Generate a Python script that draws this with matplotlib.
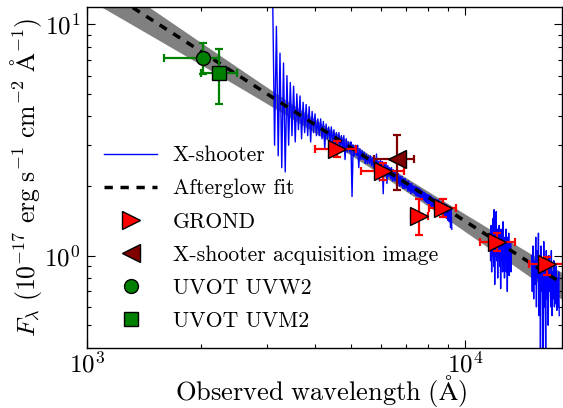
import numpy as np
import matplotlib
matplotlib.use("Agg")
import matplotlib.pyplot as plt
from matplotlib.ticker import NullFormatter

plt.rcParams['font.family'] = 'cmr10'
plt.rcParams['mathtext.fontset'] = 'cm'
plt.rcParams['axes.unicode_minus'] = False
plt.rcParams['axes.formatter.use_mathtext'] = True

# ---------------- data ----------------
# Afterglow power-law fit: F = fit_norm * (wl / fit_pivot)**fit_slope
fit_norm = 2.92
fit_pivot = 5000.0
fit_slope = -1.05
# band (dex) half-widths: sqrt(a^2 + b^2 (log wl - p)^2), upper/lower scale
band_a = 0.027
band_b = 0.095
band_p = 3.72
band_up = 0.8
band_lo = 1.2

# X-shooter spectrum, three segments (flux values)
spec_a_range = (3100, 9225)
spec_a_flux = [12.5, 3.0, 9.8, 2.7, 7.5, 2.4, 6.8, 2.3, 6.0, 3.0,
               5.6, 3.3, 5.4, 3.1, 5.0, 3.5, 4.9, 3.2, 4.6, 3.4,
               4.5, 3.3, 4.4, 3.1, 4.2, 3.4, 4.1, 3.3, 3.9, 3.3,
               3.9, 3.2, 3.8, 2.9, 3.7, 3.2, 3.6, 3.1, 3.6, 3.0,
               3.5, 3.0, 3.4, 3.0, 3.4, 2.9, 3.3, 2.9, 3.3, 2.6,
               3.2, 2.8, 3.1, 2.8, 3.1, 1.8, 3.0, 2.7, 3.0, 2.7,
               3.0, 2.4, 2.9, 2.6, 2.85, 2.6, 2.8, 2.5, 2.75, 2.5,
               2.7, 2.5, 2.7, 2.45, 2.65, 2.4, 2.6, 2.2, 2.75, 2.3,
               2.55, 2.1, 2.6, 2.3, 2.55, 1.85, 2.5, 2.25, 2.5, 2.05,
               2.45, 2.2, 2.4, 2.15, 2.4, 2.1, 2.35, 2.1, 2.3, 2.1,
               2.3, 2.05, 2.25, 2.0, 2.2, 2.0, 2.2, 1.95, 2.15, 1.95,
               2.15, 1.95, 2.1, 1.9, 2.1, 1.9, 2.05, 1.85, 2.05, 1.88,
               2.0, 1.85, 2.0, 1.82, 1.98, 1.8, 1.97, 1.8, 1.95, 1.75,
               1.92, 1.76, 1.9, 1.74, 1.88, 1.72, 1.86, 1.7, 1.84, 1.68,
               1.83, 1.68, 1.82, 1.65, 1.8, 1.62, 1.78, 1.63, 1.76, 1.6,
               1.75, 1.6, 1.74, 1.57, 1.74, 1.55, 1.72, 1.55, 1.7, 1.52,
               1.7, 1.5, 1.68, 1.48, 1.67, 1.47, 1.66, 1.45, 1.64, 1.42,
               1.62, 1.4, 1.6, 1.32, 1.58, 1.3]
spec_b_range = (11650, 13270)
spec_b_flux = [1.25, 0.95, 1.35, 0.85, 1.3, 1.0, 1.45, 0.9, 1.58, 0.75,
               1.4, 1.0, 1.55, 0.95, 1.3, 0.8, 1.25, 1.0, 1.35, 0.9,
               1.2, 0.72, 1.3, 0.95, 1.25, 0.85, 1.4, 0.9, 1.15, 0.8,
               1.2, 0.95, 1.3, 0.85, 1.15, 0.7, 1.2, 0.9, 1.25, 0.82,
               1.1, 0.88, 1.15, 0.85, 1.05]
spec_c_range = (15000, 17750)
spec_c_flux = [1.0, 0.7, 1.1, 0.65, 0.95, 0.75, 1.2, 0.6, 1.05, 0.8,
               1.25, 0.55, 1.0, 0.35, 1.1, 0.7, 0.95, 0.3, 1.15, 0.6,
               0.9, 0.38, 1.05, 0.65, 0.95, 0.5, 1.0, 0.7, 0.9, 0.6,
               1.05, 0.55, 0.85, 0.65, 0.95, 0.6, 0.85, 0.62, 0.9, 0.58,
               0.8, 0.6, 0.85, 0.55]

# GROND photometry
grond_wl = [4590, 6085, 7570, 8730, 12130, 16440]
grond_wl_lo = [4010, 5310, 7190, 8050, 10960, 14760]
grond_wl_hi = [5160, 6900, 7960, 9460, 13550, 18400]
grond_f = [2.89, 2.32, 1.49, 1.60, 1.15, 0.918]
grond_f_lo = [2.66, 2.12, 1.23, 1.47, 1.05, 0.826]
grond_f_hi = [3.14, 2.52, 1.75, 1.75, 1.25, 0.99]

# X-shooter acquisition image
acq_wl, acq_wl_lo, acq_wl_hi = 6590, 5740, 7345
acq_f, acq_f_lo, acq_f_hi = 2.61, 1.92, 3.33

# UVOT
uvw2_wl, uvw2_wl_lo, uvw2_wl_hi = 2028, 1601, 2240
uvw2_f, uvw2_f_lo, uvw2_f_hi = 7.17, 6.10, 8.32
uvm2_wl, uvm2_wl_lo, uvm2_wl_hi = 2233, 2005, 2493
uvm2_f, uvm2_f_lo, uvm2_f_hi = 6.16, 4.54, 7.82

# ---------------- plot ----------------
fig = plt.figure(figsize=(5.63, 4.08), dpi=100)
ax = fig.add_axes([0.1545, 0.148, 0.8437, 0.8353])
ax.set_xscale('log')
ax.set_yscale('log')

wl_fit = np.logspace(np.log10(900), np.log10(20000), 300)
f_fit = fit_norm * (wl_fit / fit_pivot) ** fit_slope
h = np.sqrt(band_a**2 + band_b**2 * (np.log10(wl_fit) - band_p) ** 2)
ax.fill_between(wl_fit, f_fit / 10**(band_lo * h), f_fit * 10**(band_up * h),
                color='#808080', lw=0, zorder=1)

for rng, fl in [(spec_a_range, spec_a_flux), (spec_b_range, spec_b_flux),
                (spec_c_range, spec_c_flux)]:
    wl = np.linspace(rng[0], rng[1], len(fl))
    ax.plot(wl, fl, color='blue', lw=1.0, zorder=2,
            label='X-shooter' if rng == spec_a_range else None)

ax.plot(wl_fit, f_fit, color='black', ls=(0, (2.4, 2.2)), lw=2.5, zorder=3,
        label='Afterglow fit')

def xerr(c, lo, hi):
    c = np.atleast_1d(c); lo = np.atleast_1d(lo); hi = np.atleast_1d(hi)
    return np.vstack([c - lo, hi - c])

ax.errorbar(grond_wl, grond_f, xerr=xerr(grond_wl, grond_wl_lo, grond_wl_hi),
            yerr=xerr(grond_f, grond_f_lo, grond_f_hi), fmt='none',
            ecolor='red', elinewidth=1.6, capsize=3, capthick=1.6, zorder=4)
ax.plot(grond_wl, grond_f, ls='none', marker='>', ms=13, mfc='red',
        mec='black', mew=1.0, zorder=5, label='GROND')

ax.errorbar([acq_wl], [acq_f], xerr=xerr(acq_wl, acq_wl_lo, acq_wl_hi),
            yerr=xerr(acq_f, acq_f_lo, acq_f_hi), fmt='none',
            ecolor='#800000', elinewidth=1.6, capsize=3, capthick=1.6, zorder=4)
ax.plot([acq_wl], [acq_f], ls='none', marker='<', ms=13, mfc='#800000',
        mec='black', mew=1.0, zorder=5, label='X-shooter acquisition image')

ax.errorbar([uvw2_wl], [uvw2_f], xerr=xerr(uvw2_wl, uvw2_wl_lo, uvw2_wl_hi),
            yerr=xerr(uvw2_f, uvw2_f_lo, uvw2_f_hi), fmt='none',
            ecolor='green', elinewidth=1.6, capsize=3, capthick=1.6, zorder=4)
ax.plot([uvw2_wl], [uvw2_f], ls='none', marker='o', ms=10, mfc='green',
        mec='black', mew=1.0, zorder=5, label='UVOT UVW2')

ax.errorbar([uvm2_wl], [uvm2_f], xerr=xerr(uvm2_wl, uvm2_wl_lo, uvm2_wl_hi),
            yerr=xerr(uvm2_f, uvm2_f_lo, uvm2_f_hi), fmt='none',
            ecolor='green', elinewidth=1.6, capsize=3, capthick=1.6, zorder=4)
ax.plot([uvm2_wl], [uvm2_f], ls='none', marker='s', ms=10, mfc='green',
        mec='black', mew=1.0, zorder=5, label='UVOT UVM2')

ax.set_xlim(1000, 18050)
ax.set_ylim(0.40, 11.9)

ax.tick_params(which='both', direction='in', top=True, right=True,
               labelsize=18)
ax.tick_params(which='major', length=6, width=0.8)
ax.tick_params(axis='x', which='major', pad=3)
ax.tick_params(axis='y', which='major', pad=5)
ax.tick_params(which='minor', length=3, width=0.8)
ax.yaxis.set_minor_formatter(NullFormatter())
ax.xaxis.set_minor_formatter(NullFormatter())
for sp in ax.spines.values():
    sp.set_linewidth(1.0)

fig.text(0.570, 1 - 400.0 / 408, r'$\mathrm{Observed\ wavelength\ (\AA)}$',
         fontsize=19, ha='center', va='baseline')
ax.set_ylabel(r'$F_\lambda\ (10^{-17}\ \mathrm{erg\ s^{-1}\ cm^{-2}\ \AA^{-1}})$',
              fontsize=18.5, labelpad=0)

ax.legend(loc='lower left', bbox_to_anchor=(0.0, 0.0), frameon=False,
          fontsize=15.7, handlelength=2.45, labelspacing=0.62, handletextpad=0.7,
          borderaxespad=0.38)

fig.savefig('out.png', dpi=100)
